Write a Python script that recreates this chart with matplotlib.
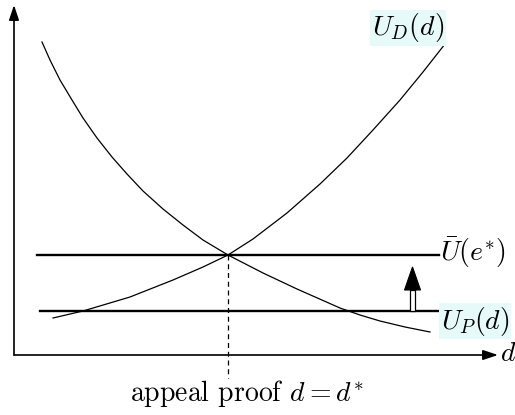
import numpy as np
import matplotlib
matplotlib.use("Agg")
import matplotlib.pyplot as plt
from matplotlib.patches import Rectangle, Polygon

plt.rcParams["font.family"] = "serif"
plt.rcParams["font.serif"] = ["cmr10"]
plt.rcParams["mathtext.fontset"] = "cm"
plt.rcParams["axes.unicode_minus"] = False

# %% Curves (distance d on x, utility on y)

up_d = [28, 36, 46, 58, 69, 83, 98, 113, 129, 149, 169, 189, 214,
        249, 283, 326, 346, 366, 391, 416]
up_u = [313, 295, 275, 255, 237, 217, 198, 181, 164, 146, 130, 115, 100,
        82, 66, 47, 40, 34, 28, 23]

ud_d = [39, 69, 116, 159, 189, 214, 239, 273, 306, 333, 359, 386, 409, 431]
ud_u = [37, 44, 58, 75, 88, 100, 116, 142, 171, 197, 225, 255, 283, 311]

# Reservation utility before and after the raise
u_bar = 100
u_low = 44
level_start = [23, 26]
level_end = [425, 431]

d_star = 214
arrow_d = 398.5

# %% Figure

fig = plt.figure(figsize=(5.15, 4.15), dpi=100)
ax = fig.add_axes([0, 0, 1, 1])
ax.set_xlim(-14, 501)
ax.set_ylim(-60, 355)
ax.axis("off")

# axes with arrow heads
head = "-|>,head_length=0.9,head_width=0.3"
ax.annotate("", xy=(0, 350), xytext=(0, 0),
            arrowprops=dict(arrowstyle=head, color="black", lw=1.2,
                            shrinkA=0, shrinkB=0))
ax.annotate("", xy=(484, 0), xytext=(0, 0),
            arrowprops=dict(arrowstyle=head, color="black", lw=1.2,
                            shrinkA=0, shrinkB=0))

ax.plot(up_d, up_u, color="black", lw=0.9)
ax.plot(ud_d, ud_u, color="black", lw=0.9)

ax.plot([level_start[0], level_end[0]], [u_bar, u_bar], color="black", lw=1.7)
ax.plot([level_start[1], level_end[1]], [u_low, u_low], color="black", lw=1.7)

ax.plot([d_star, d_star], [u_bar, -23], color="black", lw=0.9,
        ls=(0, (4, 3)))

# hollow arrow from the low level up toward u_bar
ax.add_patch(Rectangle((arrow_d - 2.5, u_low), 5, 21, fc="white",
                       ec="black", lw=0.9, zorder=3))
ax.add_patch(Polygon([(arrow_d - 8, u_low + 21), (arrow_d + 8, u_low + 21),
                      (arrow_d, u_bar - 12)], closed=True, fc="black",
                     ec="black", lw=0.8, zorder=4))

box = dict(boxstyle="square,pad=0.06", fc="#e6fafa", ec="none")
ax.text(394, 327, r"$U_D(d)$", fontsize=20, ha="center", va="center",
        bbox=box)
ax.text(461, 34, r"$U_P(d)$", fontsize=20, ha="center", va="center",
        bbox=box)
ax.text(459, 102, r"$\bar{U}(e^{*})$", fontsize=20, ha="center",
        va="center")
ax.text(494, 1, r"$d$", fontsize=20, ha="center", va="center")
ax.text(233, -38, r"appeal proof $d = d^{*}$", fontsize=20, ha="center",
        va="center")

fig.savefig("out.png", dpi=100)
